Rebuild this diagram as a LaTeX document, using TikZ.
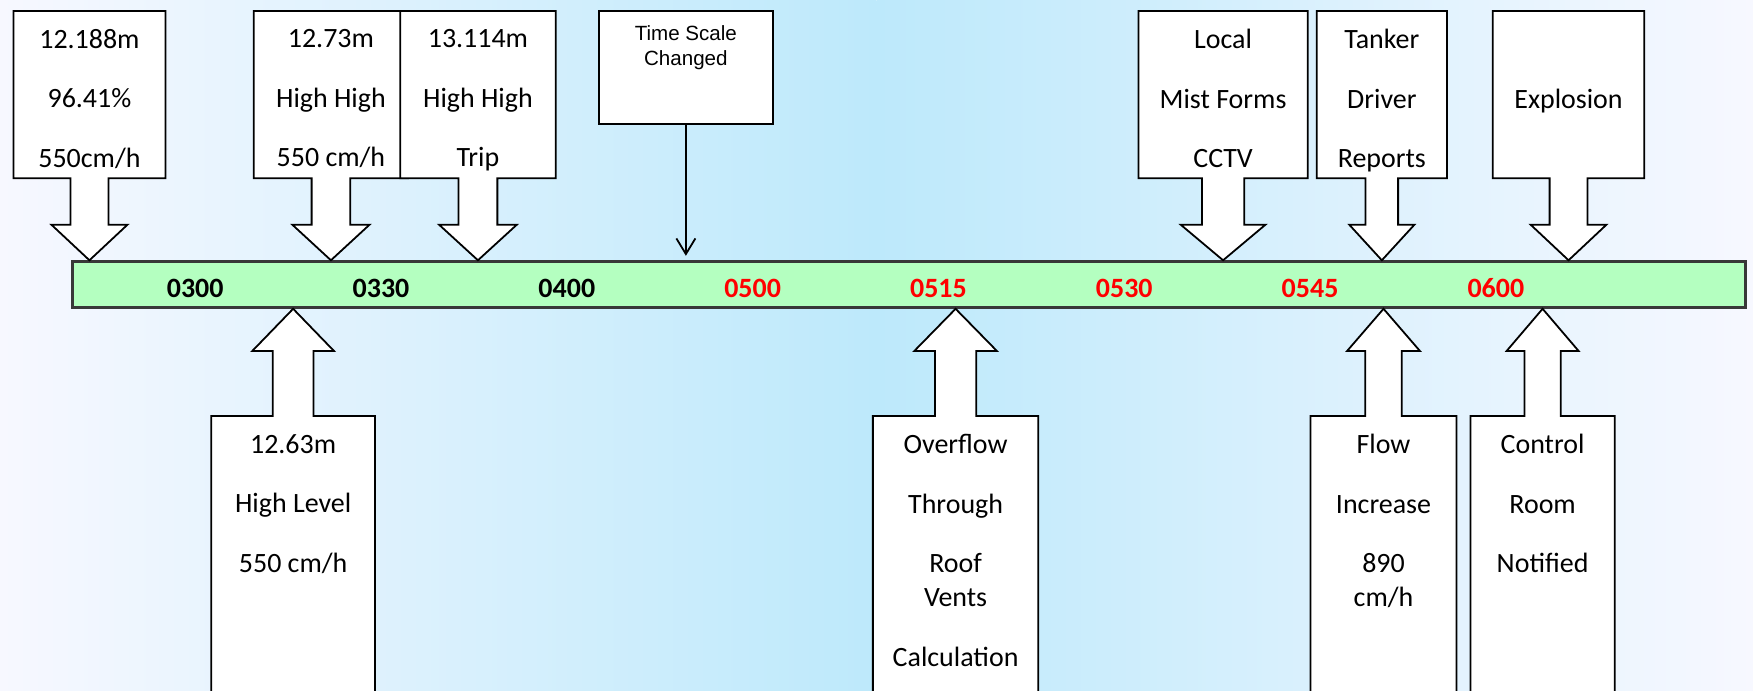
\documentclass[tikz,border=0pt]{standalone}
\usepackage{fontspec}
\setmainfont{Carlito}
\newfontfamily\arialfont{Liberation Sans}
\usetikzlibrary{arrows.meta, calc}
\definecolor{bgedge}{HTML}{F7F8FF}
\definecolor{bgmid}{HTML}{BDE9FB}
\definecolor{barfill}{HTML}{B4FFC0}
\definecolor{bardraw}{HTML}{383838}
\newcommand{\evgap}{11.7pt}
\tikzset{
  every picture/.style={line width=0.8pt},
  callout/.style={draw=black, fill=white, line join=miter},
  evtext/.style={font=\fontsize{12.5}{15}\selectfont, align=center, inner sep=0pt, anchor=north},
  bar/.style={draw=bardraw, fill=barfill, line width=1.2pt, minimum width=748pt, minimum height=20.5pt, inner sep=0pt},
  timelabel/.style={font=\fontsize{12.5}{15}\selectfont\bfseries, inner sep=0pt, anchor=base},
  tsbox/.style={draw=black, fill=white, minimum width=78pt, minimum height=50.7pt, inner sep=0pt},
  tstext/.style={font=\arialfont\fontsize{9.2}{11.2}\selectfont, align=center, inner sep=0pt, anchor=north},
  tsarrow/.style={-{Straight Barb[length=7pt, width=8.5pt]}, shorten >=2pt},
}

\begin{document}
\begin{tikzpicture}[x=0.5pt, y=-0.5pt]
  \useasboundingbox (0,0) rectangle (1568,618);
  \clip (0,0) rectangle (1568,618);
  % background
  \shade[left color=bgedge, right color=bgmid] (0,0) rectangle (784,618);
  \shade[left color=bgmid, right color=bgedge] (784,0) rectangle (1568,618);

  % time bar
  \node[bar] (bar) at (813,254.5) {};
  \foreach \t/\c [count=\i from 0] in {0300/black, 0330/black, 0400/black, 0500/red, 0515/red, 0530/red, 0545/red, 0600/red}
    \node[timelabel, text=\c] (t\t) at ({174.6+166.2*\i},266.5) {\t};

  % events above the bar
  \foreach \x/\w/\ty/\txt [count=\i] in {
      80/68/25.3/{12.188m\\[\evgap]96.41\%\\[\evgap]550cm/h},
      296/69/25.3/{12.73m\\[\evgap]High High\\[\evgap]550 cm/h},
      427.5/69.5/25.3/{13.114m\\[\evgap]High High\\[\evgap]Trip},
      1094/75.75/25.3/{Local\\[\evgap]Mist Forms\\[\evgap]CCTV},
      1236/58.25/25.3/{Tanker\\[\evgap]Driver\\[\evgap]Reports},
      1403/67.75/78.7/{Explosion}} {
    \draw[callout] ({\x-\w},9.8) -- ({\x+\w},9.8) -- ({\x+\w},159.5) -- ({\x+\w/4},159.5)
      -- ({\x+\w/4},201) -- ({\x+\w/2},201) -- (\x,0 |- bar.north) -- ({\x-\w/2},201)
      -- ({\x-\w/4},201) -- ({\x-\w/4},159.5) -- ({\x-\w},159.5) -- cycle;
    \node[evtext] (topev\i) at (\x,\ty) {\txt};
  }

  % events below the bar
  \foreach \x/\w/\txt [count=\i] in {
      262.2/73.2/{12.63m\\[\evgap]High Level\\[\evgap]550 cm/h},
      854.75/74/{Overflow\\[\evgap]Through\\[\evgap]Roof\\Vents\\[\evgap]Calculation},
      1237.5/65.25/{Flow\\[\evgap]Increase\\[\evgap]890\\cm/h},
      1379.8/64.5/{Control\\[\evgap]Room\\[\evgap]Notified}} {
    \draw[callout] ({\x-\w},650) -- ({\x-\w},372) -- ({\x-\w/4},372) -- ({\x-\w/4},314)
      -- ({\x-\w/2},314) -- (\x,0 |- bar.south) -- ({\x+\w/2},314) -- ({\x+\w/4},314)
      -- ({\x+\w/4},372) -- ({\x+\w},372) -- ({\x+\w},650) -- cycle;
    \node[evtext] (botev\i) at (\x,387.5) {\txt};
  }

  % time scale note
  \node[tsbox] (ts) at (613.5,60.5) {};
  \node[tstext] (tslabel) at (613.5,22) {Time Scale\\Changed};
  \draw[tsarrow] (ts.south) -- (ts.south |- bar.north);
\end{tikzpicture}
\end{document}
